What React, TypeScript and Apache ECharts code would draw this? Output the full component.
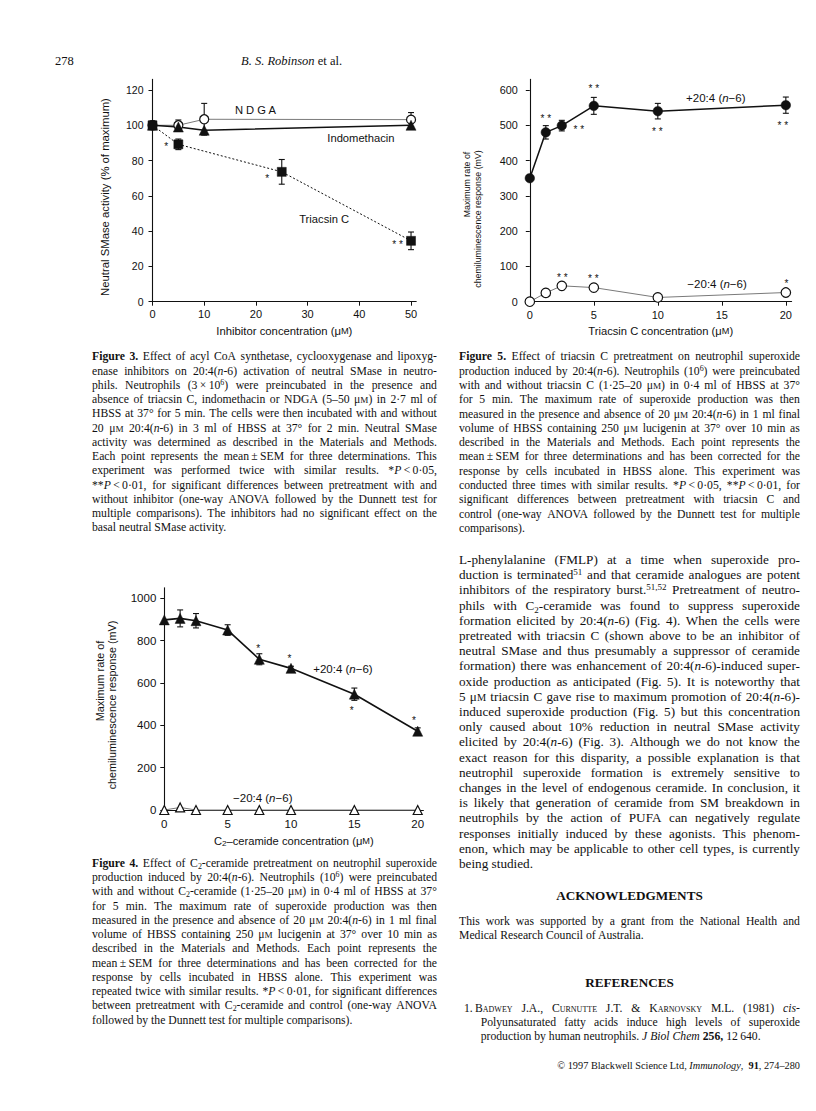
import React, { useEffect, useRef } from "react";
import * as echarts from "echarts";

const INK = "#111111";
const GREY = "#7a7a7a";
const SANS = '"Liberation Sans", Arial, Helvetica, sans-serif';
const SERIF = '"Liberation Serif", "Times New Roman", Times, serif';

// ---------- Figure 3 ----------
const f3XTicks = [0, 10, 20, 30, 40, 50];
const f3YTicks = [0, 20, 40, 60, 80, 100, 120];
const f3NdgaX = [0, 5, 10, 50];
const f3Ndga = [100, 100, 103.4, 103.2];
const f3NdgaErr = [0, 3, 9, 4];
const f3IndoX = [0, 5, 10, 50];
const f3Indo = [100, 99, 97.2, 100];
const f3IndoErr = [0, 2, 0, 0];
const f3TriX = [0, 5, 25, 50];
const f3Tri = [100, 89.2, 73.6, 34.5];
const f3TriErr = [2.5, 3, 7, 5];
const f3Labels: [number, number, string][] = [
  [19.9, 108.7, "N D G A"],
  [40.3, 93, "Indomethacin"],
  [33.2, 46.9, "Triacsin C"],
];
const f3Stars: [number, number, string][] = [
  [2.65, 89.4, "*"],
  [22.2, 71.6, "*"],
  [47.4, 33.9, "* *"],
];

// ---------- Figure 5 ----------
const f5XTicks = [0, 5, 10, 15, 20];
const f5YTicks = [0, 100, 200, 300, 400, 500, 600];
const f5X = [0, 1.25, 2.5, 5, 10, 20];
const f5Plus = [350, 480, 499, 555, 540, 557];
const f5PlusErr = [0, 19, 15, 24, 22, 23];
const f5Minus = [0, 25, 45, 40, 12, 26];
const f5Labels: [number, number, string][] = [
  [14.53, 578, "+20:4 ({i|n}\u22126)"],
  [14.63, 49.3, "\u221220:4 ({i|n}\u22126)"],
];
const f5Stars: [number, number, string][] = [
  [1.25, 529, "* *"],
  [5.0, 612, "* *"],
  [3.83, 496, "* *"],
  [9.96, 489.5, "* *"],
  [19.77, 506.5, "* *"],
  [2.54, 77.7, "* *"],
  [4.96, 73.7, "* *"],
  [20.05, 58.7, "*"],
];

// ---------- Figure 4 ----------
const f4XTicks = [0, 5, 10, 15, 20];
const f4YTicks = [0, 200, 400, 600, 800, 1000];
const f4X = [0, 1.25, 2.5, 5, 7.5, 10, 15, 20];
const f4Plus = [898, 905, 894, 850, 712, 669, 547, 372];
const f4PlusErr = [0, 40, 34, 25, 26, 10, 29, 16];
const f4Minus = [0, 12, 0, 0, 0, 0, 0, 0];
const f4Labels: [number, number, string][] = [
  [14.1, 664.6, "+20:4 ({i|n}\u22126)"],
  [7.77, 55.3, "\u221220:4 ({i|n}\u22126)"],
];
const f4Stars: [number, number, string][] = [
  [7.42, 776, "*"],
  [9.87, 729, "*"],
  [14.79, 483, "*"],
  [19.7, 434.6, "*"],
];

// ---------- Page text ----------
const fig3Caption = [
  "{b:Figure} {b:3.} Effect of acyl CoA synthetase, cyclooxygenase and lipoxyg-",
  "enase inhibitors on 20:4({i:n}-6) activation of neutral SMase in neutro-",
  "phils. Neutrophils (3\u2009\u00d7\u200910{sup:6}) were preincubated in the presence and",
  "absence of triacsin C, indomethacin or NDGA (5\u201350 \u03bc{m:M}) in 2\u00b77 ml of",
  "HBSS at 37\u00b0 for 5 min. The cells were then incubated with and without",
  "20 \u03bc{m:M} 20:4({i:n}-6) in 3 ml of HBSS at 37\u00b0 for 2 min. Neutral SMase",
  "activity was determined as described in the Materials and Methods.",
  "Each point represents the mean\u2009\u00b1\u2009SEM for three determinations. This",
  "experiment was performed twice with similar results. *{i:P}\u2009<\u20090\u00b705,",
  "**{i:P}\u2009<\u20090\u00b701, for significant differences between pretreatment with and",
  "without inhibitor (one-way ANOVA followed by the Dunnett test for",
  "multiple comparisons). The inhibitors had no significant effect on the",
  "basal neutral SMase activity.",
];
const fig5Caption = [
  "{b:Figure} {b:5.} Effect of triacsin C pretreatment on neutrophil superoxide",
  "production induced by 20:4({i:n}-6). Neutrophils (10{sup:6}) were preincubated",
  "with and without triacsin C (1\u00b725\u201320 \u03bc{m:M}) in 0\u00b74 ml of HBSS at 37\u00b0",
  "for 5 min. The maximum rate of superoxide production was then",
  "measured in the presence and absence of 20 \u03bc{m:M} 20:4({i:n}-6) in 1 ml final",
  "volume of HBSS containing 250 \u03bc{m:M} lucigenin at 37\u00b0 over 10 min as",
  "described in the Materials and Methods. Each point represents the",
  "mean\u2009\u00b1\u2009SEM for three determinations and has been corrected for the",
  "response by cells incubated in HBSS alone. This experiment was",
  "conducted three times with similar results. *{i:P}\u2009<\u20090\u00b705, **{i:P}\u2009<\u20090\u00b701, for",
  "significant differences between pretreatment with triacsin C and",
  "control (one-way ANOVA followed by the Dunnett test for multiple",
  "comparisons).",
];
const fig4Caption = [
  "{b:Figure} {b:4.} Effect of C{sub:2}-ceramide pretreatment on neutrophil superoxide",
  "production induced by 20:4({i:n}-6). Neutrophils (10{sup:6}) were preincubated",
  "with and without C{sub:2}-ceramide (1\u00b725\u201320 \u03bc{m:M}) in 0\u00b74 ml of HBSS at 37\u00b0",
  "for 5 min. The maximum rate of superoxide production was then",
  "measured in the presence and absence of 20 \u03bc{m:M} 20:4({i:n}-6) in 1 ml final",
  "volume of HBSS containing 250 \u03bc{m:M} lucigenin at 37\u00b0 over 10 min as",
  "described in the Materials and Methods. Each point represents the",
  "mean\u2009\u00b1\u2009SEM for three determinations and has been corrected for the",
  "response by cells incubated in HBSS alone. This experiment was",
  "repeated twice with similar results. *{i:P}\u2009<\u20090\u00b701, for significant differences",
  "between pretreatment with C{sub:2}-ceramide and control (one-way ANOVA",
  "followed by the Dunnett test for multiple comparisons).",
];
const bodyText = [
  "L-phenylalanine (FMLP) at a time when superoxide pro-",
  "duction is terminated{sup:51} and that ceramide analogues are potent",
  "inhibitors of the respiratory burst.{sup:51,52} Pretreatment of neutro-",
  "phils with C{sub:2}-ceramide was found to suppress superoxide",
  "formation elicited by 20:4({i:n}-6) (Fig. 4). When the cells were",
  "pretreated with triacsin C (shown above to be an inhibitor of",
  "neutral SMase and thus presumably a suppressor of ceramide",
  "formation) there was enhancement of 20:4({i:n}-6)-induced super-",
  "oxide production as anticipated (Fig. 5). It is noteworthy that",
  "5 \u03bc{m:M} triacsin C gave rise to maximum promotion of 20:4({i:n}-6)-",
  "induced superoxide production (Fig. 5) but this concentration",
  "only caused about 10% reduction in neutral SMase activity",
  "elicited by 20:4({i:n}-6) (Fig. 3). Although we do not know the",
  "exact reason for this disparity, a possible explanation is that",
  "neutrophil superoxide formation is extremely sensitive to",
  "changes in the level of endogenous ceramide. In conclusion, it",
  "is likely that generation of ceramide from SM breakdown in",
  "neutrophils by the action of PUFA can negatively regulate",
  "responses initially induced by these agonists. This phenom-",
  "enon, which may be applicable to other cell types, is currently",
  "being studied.",
];
const ackText = [
  "This work was supported by a grant from the National Health and",
  "Medical Research Council of Australia.",
];
const refText = [
  "{sc:Badwey} J.A., {sc:Curnutte} J.T. & {sc:Karnovsky} M.L. (1981) {i:cis-}",
  "Polyunsaturated fatty acids induce high levels of superoxide",
  "production by human neutrophils. {i:J} {i:Biol} {i:Chem} {b:256,} 12\u2009640.",
];

// ---------- helpers ----------
const pts = (xs: number[], ys: number[]) => xs.map((x, i) => [x, ys[i]]);

function errSeries(xs: number[], ys: number[], es: number[], gi: number) {
  return {
    type: "custom",
    xAxisIndex: gi,
    yAxisIndex: gi,
    clip: false,
    silent: true,
    z: 1,
    encode: { x: 0, y: 1 },
    data: xs.map((x, i) => [x, ys[i], es[i]]),
    renderItem: (_p: any, api: any) => {
      const x = api.value(0);
      const y = api.value(1);
      const e = api.value(2);
      if (!e) return { type: "group", children: [] };
      const t = api.coord([x, y + e]);
      const b = api.coord([x, y - e]);
      const cw = 3;
      const st = { stroke: INK, lineWidth: 1.1 };
      return {
        type: "group",
        children: [
          { type: "line", shape: { x1: t[0], y1: t[1], x2: b[0], y2: b[1] }, style: st },
          { type: "line", shape: { x1: t[0] - cw, y1: t[1], x2: t[0] + cw, y2: t[1] }, style: st },
          { type: "line", shape: { x1: b[0] - cw, y1: b[1], x2: b[0] + cw, y2: b[1] }, style: st },
        ],
      };
    },
  };
}

function annSeries(items: [number, number, string][], gi: number, fontSize: number, dy: number) {
  return {
    type: "custom",
    xAxisIndex: gi,
    yAxisIndex: gi,
    clip: false,
    silent: true,
    z: 6,
    encode: { x: 0, y: 1 },
    data: items.map((a) => [a[0], a[1]]),
    renderItem: (params: any, api: any) => {
      const a = items[params.dataIndex];
      const p = api.coord([api.value(0), api.value(1)]);
      return {
        type: "text",
        x: p[0],
        y: p[1] + dy,
        style: {
          text: a[2],
          fontSize,
          fontFamily: SANS,
          fill: INK,
          align: "center",
          verticalAlign: "middle",
          rich: { i: { fontStyle: "italic", fontSize, fontFamily: SANS, fill: INK } },
        },
      };
    },
  };
}

function lineSeries(
  xs: number[],
  ys: number[],
  gi: number,
  symbol: string,
  size: number,
  filled: boolean,
  lineColor: string,
  lineWidth: number,
  lineType: any = "solid"
) {
  return {
    type: "line",
    xAxisIndex: gi,
    yAxisIndex: gi,
    data: pts(xs, ys),
    symbol,
    symbolSize: size,
    showSymbol: true,
    clip: false,
    silent: true,
    z: 3,
    lineStyle: { color: lineColor, width: lineWidth, type: lineType },
    itemStyle: filled
      ? { color: INK, borderColor: INK, borderWidth: 0.5 }
      : { color: "#ffffff", borderColor: INK, borderWidth: 1.2 },
  };
}

function valueAxis(gi: number, min: number, max: number, ticks: number[], fs: number, margin: number, extra: any = {}) {
  return {
    type: "value",
    gridIndex: gi,
    min,
    max,
    splitLine: { show: false },
    axisLine: { show: true, onZero: false, lineStyle: { color: INK, width: 1.1 } },
    axisTick: { show: true, customValues: ticks, length: 4, inside: false, lineStyle: { color: INK, width: 1 } },
    axisLabel: {
      customValues: ticks,
      color: INK,
      fontSize: fs,
      fontFamily: SANS,
      margin,
      formatter: (v: number) => String(v),
    },
    ...extra,
  };
}

const nameStyle = (fs: number) => ({
  fontSize: fs,
  color: INK,
  fontFamily: SANS,
  lineHeight: 14,
  rich: {
    sc: { fontSize: fs * 0.82, color: INK, fontFamily: SANS, lineHeight: 14, verticalAlign: "middle" },
    sub: { fontSize: fs * 0.72, color: INK, fontFamily: SANS, lineHeight: 8, verticalAlign: "bottom" },
  },
});

function vText(x: number, y: number, text: string, fs: number) {
  return {
    type: "text",
    x,
    y,
    rotation: Math.PI / 2,
    silent: true,
    style: {
      text,
      fontSize: fs,
      fontFamily: SANS,
      fill: INK,
      align: "center",
      verticalAlign: "middle",
      textAlign: "center",
      textVerticalAlign: "middle",
    },
  };
}

function buildOption() {
  return {
    animation: false,
    backgroundColor: "transparent",
    textStyle: { fontFamily: SANS },
    grid: [
      { left: 152.5, top: 79.4, width: 263.7, height: 222.3, containLabel: false, outerBoundsMode: "none" },
      { left: 529.8, top: 79.4, width: 261.8, height: 222.3, containLabel: false, outerBoundsMode: "none" },
      { left: 164.3, top: 587.7, width: 259.1, height: 222.3, containLabel: false, outerBoundsMode: "none" },
    ],
    xAxis: [
      valueAxis(0, 0, 51, f3XTicks, 11, 7, {
        name: "Inhibitor concentration (\u03bc{sc|M})",
        nameLocation: "middle",
        nameGap: 22.5,
        nameTextStyle: nameStyle(11.3),
      }),
      valueAxis(1, 0, 20.45, f5XTicks, 11, 7.5, {
        name: "Triacsin C concentration (\u03bc{sc|M})",
        nameLocation: "middle",
        nameGap: 22,
        nameTextStyle: nameStyle(11.2),
      }),
      valueAxis(2, 0, 20.45, f4XTicks, 11.5, 7.5, {
        name: "C{sub|2}\u2013ceramide concentration (\u03bc{sc|M})",
        nameLocation: "middle",
        nameGap: 23.5,
        nameTextStyle: nameStyle(11.2),
      }),
    ],
    yAxis: [
      valueAxis(0, 0, 126, f3YTicks, 10.5, 9),
      valueAxis(1, 0, 630, f5YTicks, 10.8, 12),
      valueAxis(2, 0, 1050, f4YTicks, 11.5, 8),
    ],
    graphic: [
      vText(105, 197, "Neutral SMase activity (% of maximum)", 11.3),
      vText(466.7, 184.5, "Maximum rate of", 8.8),
      vText(478.3, 219, "chemiluminescence response (mV)", 8.8),
      vText(100, 681, "Maximum rate of", 10.8),
      vText(111.7, 705, "chemiluminescence response (mV)", 10.8),
    ],
    series: [
      // Figure 3
      errSeries(f3NdgaX, f3Ndga, f3NdgaErr, 0),
      errSeries(f3IndoX, f3Indo, f3IndoErr, 0),
      errSeries(f3TriX, f3Tri, f3TriErr, 0),
      lineSeries(f3NdgaX, f3Ndga, 0, "circle", 9, false, GREY, 1),
      lineSeries(f3IndoX, f3Indo, 0, "triangle", 10, true, INK, 1.6),
      lineSeries(f3TriX, f3Tri, 0, "rect", 9, true, INK, 1, [2, 2]),
      annSeries(f3Labels, 0, 11.2, 0),
      annSeries(f3Stars, 0, 10, 3),
      // Figure 5
      errSeries(f5X, f5Plus, f5PlusErr, 1),
      lineSeries(f5X, f5Plus, 1, "circle", 9.5, true, INK, 1.5),
      lineSeries(f5X, f5Minus, 1, "circle", 9.5, false, GREY, 1),
      annSeries(f5Labels, 1, 11.5, 0),
      annSeries(f5Stars, 1, 10, 3),
      // Figure 4
      errSeries(f4X, f4Plus, f4PlusErr, 2),
      lineSeries(f4X, f4Plus, 2, "triangle", 10, true, INK, 1.6),
      lineSeries(f4X, f4Minus, 2, "triangle", 9, false, GREY, 1),
      annSeries(f4Labels, 2, 11.5, 0),
      annSeries(f4Stars, 2, 10, 3),
    ],
  };
}

// ---------- text rendering ----------
function renderWord(word: string) {
  const out: React.ReactNode[] = [];
  const re = /\{(\w+):([^}]*)\}|([^{]+)/g;
  let m: RegExpExecArray | null;
  let k = 0;
  while ((m = re.exec(word)) !== null) {
    if (m[3] !== undefined) {
      out.push(<React.Fragment key={k++}>{m[3]}</React.Fragment>);
    } else {
      const tag = m[1];
      const t = m[2];
      let st: React.CSSProperties = {};
      if (tag === "i") st = { fontStyle: "italic" };
      else if (tag === "b") st = { fontWeight: "bold" };
      else if (tag === "sup") st = { fontSize: "0.68em", verticalAlign: "0.5em", lineHeight: 0 };
      else if (tag === "sub") st = { fontSize: "0.68em", verticalAlign: "-0.3em", lineHeight: 0 };
      else if (tag === "sc") st = { fontVariant: "small-caps" };
      else if (tag === "m") st = { fontSize: "0.78em" };
      out.push(
        <span key={k++} style={st}>
          {t}
        </span>
      );
    }
  }
  return out;
}

type Mode = "justify" | "left" | "right" | "center";

function TextLine(props: { text: string; x: number; w: number; cy: number; fs: number; lh: number; mode: Mode; bold?: boolean }) {
  const { text, x, w, cy, fs, lh, mode, bold } = props;
  const base: React.CSSProperties = {
    position: "absolute",
    left: x,
    width: w,
    top: cy - lh / 2 - 1,
    height: lh,
    lineHeight: `${lh}px`,
    fontSize: fs,
    whiteSpace: "nowrap",
    fontWeight: bold ? "bold" : "normal",
  };
  const words = text.split(" ");
  if (mode === "justify") {
    return (
      <div style={{ ...base, display: "flex", justifyContent: "space-between" }}>
        {words.map((wd, i) => (
          <span key={i}>{renderWord(wd)}</span>
        ))}
      </div>
    );
  }
  return (
    <div style={{ ...base, textAlign: mode }}>
      {words.map((wd, i) => (
        <React.Fragment key={i}>
          {i ? " " : ""}
          {renderWord(wd)}
        </React.Fragment>
      ))}
    </div>
  );
}

function Para(props: { lines: string[]; x: number; w: number; y0: number; step: number; fs: number; lh: number; lastJustify?: boolean }) {
  const { lines, x, w, y0, step, fs, lh, lastJustify } = props;
  return (
    <>
      {lines.map((t, i) => (
        <TextLine
          key={i}
          text={t}
          x={x}
          w={w}
          cy={y0 + i * step}
          fs={fs}
          lh={lh}
          mode={i === lines.length - 1 && !lastJustify ? "left" : "justify"}
        />
      ))}
    </>
  );
}

const LX = 92;
const LW = 345;
const RX = 459;
const RW = 341;
const CAP_FS = 11.7;

export default function App() {
  const ref = useRef<HTMLDivElement>(null);
  useEffect(() => {
    if (!ref.current) return;
    const chart = echarts.init(ref.current, null, { renderer: "svg" });
    chart.setOption(buildOption() as any);
    return () => chart.dispose();
  }, []);

  return (
    <div
      style={{
        position: "absolute",
        left: 0,
        top: 0,
        width: 816,
        height: 1111,
        overflow: "hidden",
        background: "#ffffff",
        color: INK,
        fontFamily: SERIF,
      }}
    >
      <div ref={ref} style={{ position: "absolute", left: 0, top: 0, width: 816, height: 1111 }} />

      {/* running head */}
      <TextLine text="278" x={55} w={40} cy={62.5} fs={12.5} lh={15} mode="left" />
      <TextLine text="{i:B.} {i:S.} {i:Robinson} et al." x={241} w={140} cy={62.5} fs={12.5} lh={15} mode="left" />

      {/* captions */}
      <Para lines={fig3Caption} x={LX} w={LW} y0={358.3} step={14.25} fs={CAP_FS} lh={14} />
      <Para lines={fig5Caption} x={RX} w={RW} y0={358.3} step={14.3} fs={CAP_FS} lh={14} />
      <Para lines={fig4Caption} x={LX} w={LW} y0={865} step={14.24} fs={CAP_FS} lh={14} />

      {/* body */}
      <Para lines={bodyText} x={RX} w={RW} y0={560.5} step={15.2} fs={13.2} lh={15} />

      <TextLine text="ACKNOWLEDGMENTS" x={RX} w={RW} cy={896.7} fs={13.2} lh={15} mode="center" bold />
      <Para lines={ackText} x={RX} w={RW} y0={922.7} step={14.2} fs={CAP_FS} lh={14} />

      <TextLine text="REFERENCES" x={RX} w={RW} cy={983.3} fs={13.2} lh={15} mode="center" bold />
      <TextLine text="1." x={464} w={12} cy={1010} fs={CAP_FS} lh={14} mode="left" />
      <TextLine text={refText[0]} x={475} w={325} cy={1010} fs={CAP_FS} lh={14} mode="justify" />
      <TextLine text={refText[1]} x={480.7} w={319.3} cy={1024.3} fs={CAP_FS} lh={14} mode="justify" />
      <TextLine text={refText[2]} x={480.7} w={319.3} cy={1038.3} fs={CAP_FS} lh={14} mode="left" />

      <TextLine
        text={"\u00a9 1997 Blackwell Science Ltd, {i:Immunology},\u00a0 {b:91}, 274\u2013280"}
        x={RX}
        w={RW}
        cy={1066.7}
        fs={10.3}
        lh={13}
        mode="right"
      />
    </div>
  );
}
